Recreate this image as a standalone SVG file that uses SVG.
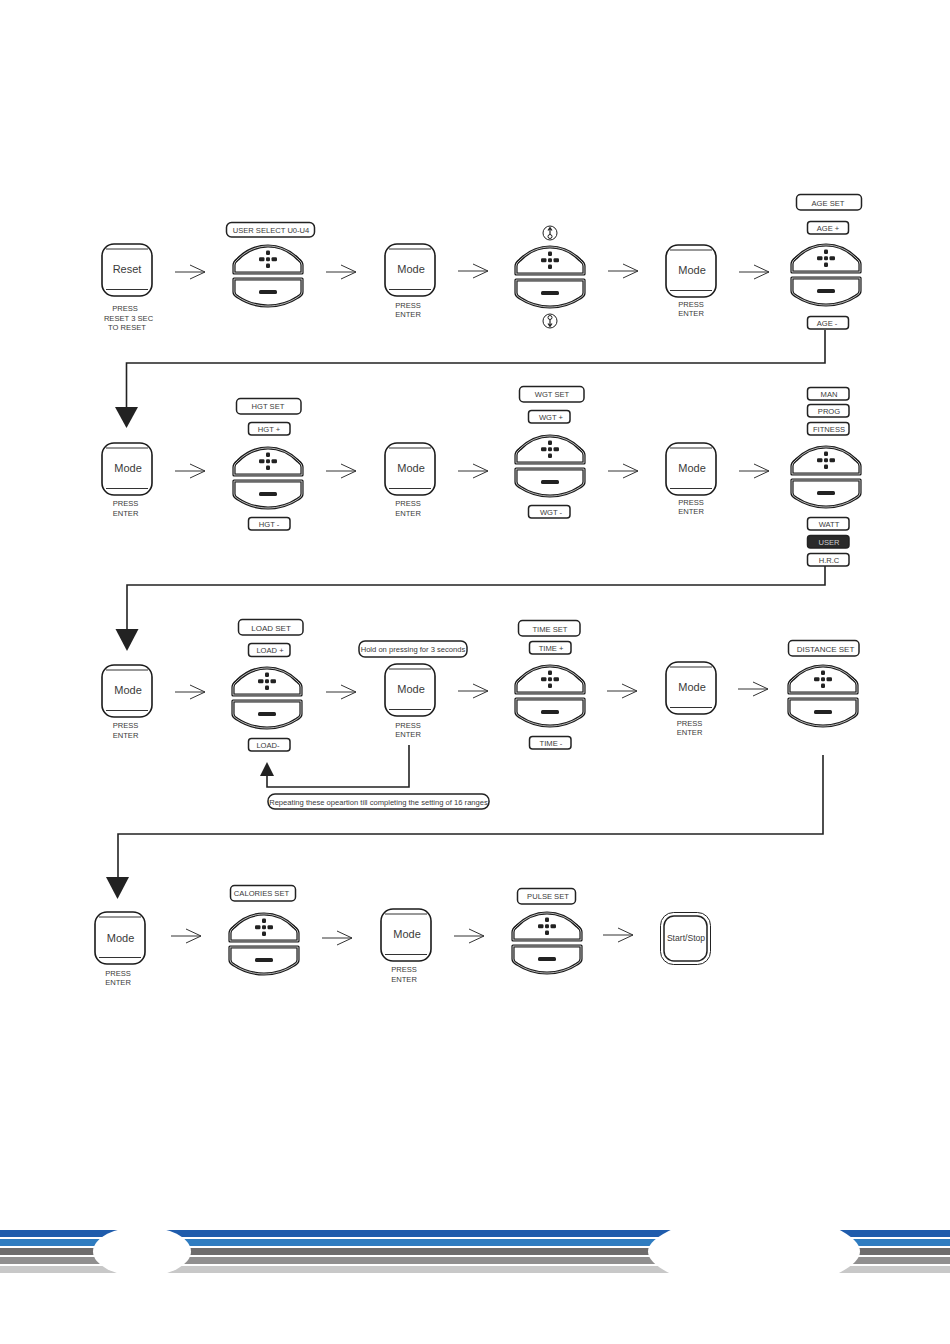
<svg xmlns="http://www.w3.org/2000/svg" xmlns:xlink="http://www.w3.org/1999/xlink" width="950" height="1344" viewBox="0 0 950 1344">
<style>
text{font-family:"Liberation Sans",Arial,sans-serif;text-anchor:middle;fill:#3a3a3a}
.s{font-size:7.6px}
.p{font-size:7.6px}
.b{font-size:11px}
.pill{fill:#fff;stroke:#222;stroke-width:1.5}
.o{fill:#fff;stroke:#1a1a1a;stroke-width:3.2;stroke-linejoin:round}
.i{fill:none;stroke:#fff;stroke-width:.7;stroke-linejoin:round}
.k{fill:none;stroke:#1a1a1a;stroke-width:1.6}
.t{fill:none;stroke:#333;stroke-width:1}
.c{fill:none;stroke:#222;stroke-width:1.6}
.h{fill:#222}
.a{fill:none;stroke:#333;stroke-width:1}
</style>
<defs>
<g id="pad">
<path class="o" d="M-34,-3H34V-11Q34,-14 30,-17C21,-26 10,-30 0,-30C-10,-30 -21,-26 -30,-17Q-34,-14 -34,-11Z"/>
<path class="i" d="M-34,-3H34V-11Q34,-14 30,-17C21,-26 10,-30 0,-30C-10,-30 -21,-26 -30,-17Q-34,-14 -34,-11Z"/>
<path class="o" d="M-34,3H34V16Q34,19 30,21C21,27 10,30 0,30C-10,30 -21,27 -30,21Q-34,19 -34,16Z"/>
<path class="i" d="M-34,3H34V16Q34,19 30,21C21,27 10,30 0,30C-10,30 -21,27 -30,21Q-34,19 -34,16Z"/>
<rect x="-2" y="-25.500" width="4" height="4.500" rx="1.200" fill="#222"/>
<rect x="-2" y="-12.500" width="4" height="4.500" rx="1.200" fill="#222"/>
<rect x="-9" y="-18.800" width="5.500" height="4" rx="1.200" fill="#222"/>
<rect x="-2" y="-18.800" width="4" height="4" rx="1.200" fill="#222"/>
<rect x="3.500" y="-18.800" width="5.500" height="4" rx="1.200" fill="#222"/>
<rect x="-9" y="14" width="18" height="4" rx="1.500" fill="#222"/>
</g>
<g id="btn">
<rect class="k" x="-25" y="-26" width="50" height="52" rx="12"/>
<path class="t" d="M-21,-21H21M-21,19.500H21"/>
</g>
<path id="arr" class="a" d="M0,0H30M15,-7L30,0L15,7"/>
</defs>
<rect width="950" height="1344" fill="#fff"/>
<g id="connectors">
<use xlink:href="#arr" x="175" y="272"/><use xlink:href="#arr" x="326" y="272"/><use xlink:href="#arr" x="458" y="271"/><use xlink:href="#arr" x="608" y="271"/><use xlink:href="#arr" x="739" y="272"/>
<use xlink:href="#arr" x="175" y="471"/><use xlink:href="#arr" x="326" y="471"/><use xlink:href="#arr" x="458" y="471"/><use xlink:href="#arr" x="608" y="471"/><use xlink:href="#arr" x="739" y="471"/>
<use xlink:href="#arr" x="175" y="692"/><use xlink:href="#arr" x="326" y="692"/><use xlink:href="#arr" x="458" y="691"/><use xlink:href="#arr" x="607" y="691"/><use xlink:href="#arr" x="738" y="689"/>
<use xlink:href="#arr" x="171" y="936"/><use xlink:href="#arr" x="322" y="938"/><use xlink:href="#arr" x="454" y="936"/><use xlink:href="#arr" x="603" y="935"/>
<path class="c" d="M825,330V363H126.500V410"/><path class="h" d="M115,407H138L126.500,428Z"/>
<path class="c" d="M825,566V585H127V632"/><path class="h" d="M115.500,629H138.500L127,651Z"/>
<path class="c" d="M823,755V834H118V880"/><path class="h" d="M106,877H129L117.500,899Z"/>
<path class="c" d="M409,745V787H267V774"/><path class="h" d="M260,776H274L267,762Z"/>
</g>
<g id="n-reset"><use xlink:href="#btn" x="127" y="270"/><text class="b" x="127" y="273">Reset</text><text class="s" x="125" y="311">PRESS</text><text class="s" x="128.500" y="320.500">RESET 3 SEC</text><text class="s" x="127" y="329.500">TO RESET</text></g>
<g id="n-user"><use xlink:href="#pad" x="268" y="276"/><rect class="pill" x="226.500" y="222.500" width="88" height="14.500" rx="5"/><text class="p" x="271" y="232.500">USER SELECT U0-U4</text></g>
<g id="n-mode1"><use xlink:href="#btn" x="410" y="270"/><text class="b" x="411" y="273">Mode</text><text class="s" x="408" y="308">PRESS</text><text class="s" x="408" y="317">ENTER</text></g>
<g id="n-gender"><use xlink:href="#pad" x="550" y="277"/>
<circle cx="550" cy="233" r="7" fill="#fff" stroke="#222" stroke-width="1"/><path d="M550,228V235M548,230.500L550,227.500L552,230.500" fill="none" stroke="#222" stroke-width="1.200"/><circle cx="550" cy="236.500" r="2" fill="#fff" stroke="#222" stroke-width="1"/>
<circle cx="550" cy="321" r="7" fill="#fff" stroke="#222" stroke-width="1"/><circle cx="550" cy="317.500" r="2" fill="#fff" stroke="#222" stroke-width="1"/><path d="M550,319.500V326.500M548,323.500L550,326.500L552,323.500" fill="none" stroke="#222" stroke-width="1.200"/></g>
<g id="n-mode2"><use xlink:href="#btn" x="691" y="271"/><text class="b" x="692" y="274">Mode</text><text class="s" x="691" y="307">PRESS</text><text class="s" x="691" y="316">ENTER</text></g>
<g id="n-age"><use xlink:href="#pad" x="826" y="275"/><rect class="pill" x="796.500" y="194.500" width="65" height="15.500" rx="4"/><text class="p" x="828" y="205.500">AGE SET</text><rect class="pill" x="807.500" y="221.500" width="41" height="12.500" rx="3"/><text class="p" x="828" y="230.500">AGE +</text><rect class="pill" x="807.500" y="316.500" width="41" height="12.500" rx="3"/><text class="p" x="827" y="325.500">AGE -</text></g>
<g id="n-mode3"><use xlink:href="#btn" x="127" y="469"/><text class="b" x="128" y="472">Mode</text><text class="s" x="125.500" y="506">PRESS</text><text class="s" x="125.500" y="515.500">ENTER</text></g>
<g id="n-hgt"><use xlink:href="#pad" x="268" y="478"/><rect class="pill" x="236.500" y="398.500" width="64.500" height="15.500" rx="4"/><text class="p" x="268" y="409">HGT SET</text><rect class="pill" x="248.500" y="422.500" width="41.500" height="12.500" rx="3"/><text class="p" x="269" y="431.500">HGT +</text><rect class="pill" x="248.500" y="517.500" width="41.500" height="12.500" rx="3"/><text class="p" x="269" y="526.500">HGT -</text></g>
<g id="n-mode4"><use xlink:href="#btn" x="410" y="469"/><text class="b" x="411" y="472">Mode</text><text class="s" x="408" y="506">PRESS</text><text class="s" x="408" y="515.500">ENTER</text></g>
<g id="n-wgt"><use xlink:href="#pad" x="550" y="466"/><rect class="pill" x="519.500" y="386.500" width="64.500" height="15.500" rx="4"/><text class="p" x="552" y="397">WGT SET</text><rect class="pill" x="528.500" y="410.500" width="41.500" height="12.500" rx="3"/><text class="p" x="551" y="419.500">WGT +</text><rect class="pill" x="528.500" y="505.500" width="41.500" height="12.500" rx="3"/><text class="p" x="551" y="514.500">WGT -</text></g>
<g id="n-mode5"><use xlink:href="#btn" x="691" y="469"/><text class="b" x="692" y="472">Mode</text><text class="s" x="691" y="504.500">PRESS</text><text class="s" x="691" y="513.500">ENTER</text></g>
<g id="n-prog"><use xlink:href="#pad" x="826" y="477"/>
<rect class="pill" x="807.500" y="387.500" width="41.500" height="12.500" rx="3"/><text class="p" x="829" y="396.500">MAN</text>
<rect class="pill" x="807.500" y="404.500" width="41.500" height="12.500" rx="3"/><text class="p" x="829" y="413.500">PROG</text>
<rect class="pill" x="807.500" y="422.500" width="41.500" height="12.500" rx="3"/><text class="p" x="829" y="431.500">FITNESS</text>
<rect class="pill" x="807.500" y="517.500" width="41.500" height="12.500" rx="3"/><text class="p" x="829" y="526.500">WATT</text>
<rect class="pill" x="807.500" y="535.500" width="41.500" height="12.500" rx="3" style="fill:#2a2a2a"/><text class="p" x="829" y="544.500" style="fill:#ccc">USER</text>
<rect class="pill" x="807.500" y="553.500" width="41.500" height="12.500" rx="3"/><text class="p" x="829" y="562.500">H.R.C</text></g>
<g id="n-mode6"><use xlink:href="#btn" x="127" y="691"/><text class="b" x="128" y="694">Mode</text><text class="s" x="125.500" y="728">PRESS</text><text class="s" x="125.500" y="737.500">ENTER</text></g>
<g id="n-load"><use xlink:href="#pad" x="267" y="698"/><rect class="pill" x="238.500" y="619.500" width="64.500" height="15.500" rx="4"/><text class="p" x="271" y="630.500" style="font-size:8px">LOAD SET</text><rect class="pill" x="248.500" y="643.500" width="41.500" height="13" rx="3"/><text class="p" x="270" y="653">LOAD +</text><rect class="pill" x="248.500" y="738.500" width="41.500" height="12.500" rx="3"/><text class="p" x="268" y="747.500">LOAD-</text></g>
<g id="n-mode7"><use xlink:href="#btn" x="410" y="690"/><text class="b" x="411" y="693">Mode</text><text class="s" x="408" y="728">PRESS</text><text class="s" x="408" y="737">ENTER</text><rect class="pill" x="359" y="641" width="108" height="16" rx="6"/><text class="p" x="413" y="652">Hold on pressing for 3 seconds</text></g>
<g id="n-note"><rect class="pill" x="268" y="794" width="221" height="15" rx="7"/><text class="p" x="378.500" y="804.500">Repeating these opeartion till completing the setting of 16 ranges</text></g>
<g id="n-time"><use xlink:href="#pad" x="550" y="696"/><rect class="pill" x="518.500" y="620.500" width="61.500" height="15.500" rx="4"/><text class="p" x="550" y="631.500">TIME SET</text><rect class="pill" x="529.500" y="641.500" width="41.500" height="12.500" rx="3"/><text class="p" x="551" y="650.500">TIME +</text><rect class="pill" x="529.500" y="736.500" width="41.500" height="12.500" rx="3"/><text class="p" x="551" y="745.500">TIME -</text></g>
<g id="n-mode8"><use xlink:href="#btn" x="691" y="688"/><text class="b" x="692" y="691">Mode</text><text class="s" x="689.500" y="726">PRESS</text><text class="s" x="689.500" y="735">ENTER</text></g>
<g id="n-distance"><use xlink:href="#pad" x="823" y="696"/><rect class="pill" x="788.500" y="640.500" width="70.500" height="15.500" rx="4"/><text class="p" x="825.500" y="651.500" style="font-size:8px">DISTANCE SET</text></g>
<g id="n-mode9"><use xlink:href="#btn" x="120" y="938"/><text class="b" x="120.500" y="941.500">Mode</text><text class="s" x="118" y="975.500">PRESS</text><text class="s" x="118" y="985">ENTER</text></g>
<g id="n-calories"><use xlink:href="#pad" x="264" y="944"/><rect class="pill" x="230.500" y="885.500" width="65" height="15.500" rx="4"/><text class="p" x="261.500" y="896">CALORIES SET</text></g>
<g id="n-mode10"><use xlink:href="#btn" x="406" y="935"/><text class="b" x="407" y="937.500">Mode</text><text class="s" x="404" y="972">PRESS</text><text class="s" x="404" y="981.500">ENTER</text></g>
<g id="n-pulse"><use xlink:href="#pad" x="547" y="943"/><rect class="pill" x="517.500" y="888.500" width="58" height="15.500" rx="4"/><text class="p" x="548" y="899">PULSE SET</text></g>
<g id="n-start"><rect x="660.500" y="912.500" width="50" height="52" rx="13" fill="#fff" stroke="#222" stroke-width="1"/><rect x="664" y="916" width="43" height="45" rx="10" fill="#fff" stroke="#222" stroke-width="1.500"/><text x="686" y="941" style="font-size:8.600px">Start/Stop</text></g>
<rect x="0" y="1230" width="950" height="7" fill="#1f5cac"/>
<rect x="0" y="1239" width="950" height="7" fill="#2f7cc0"/>
<rect x="0" y="1248" width="950" height="7" fill="#6e6c6c"/>
<rect x="0" y="1257" width="950" height="7" fill="#908f8f"/>
<rect x="0" y="1266" width="950" height="7" fill="#c8c8c8"/>
<ellipse cx="142" cy="1251.500" rx="49" ry="25" fill="#fff"/>
<path d="M675,1228Q648,1240 648,1251.500Q648,1263 673,1275H835Q860,1263 860,1251.500Q860,1240 836,1228Z" fill="#fff"/>
</svg>
